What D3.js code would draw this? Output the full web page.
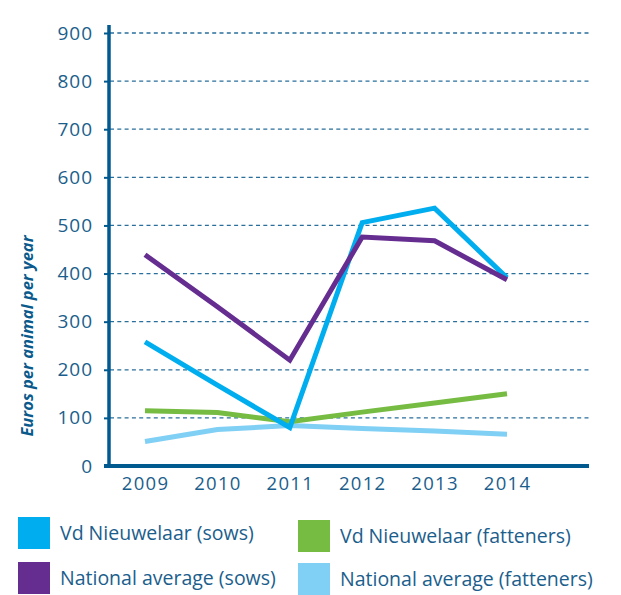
<!DOCTYPE html>
<html>
<head>
<meta charset="utf-8">
<script src="https://cdn.jsdelivr.net/npm/d3@7"></script>
<style>
  body { margin: 0; background: #fff; }
  text { font-family: "Open Sans", "Noto Sans", sans-serif; }
</style>
</head>
<body>
<div id="chart"></div>
<script>
// data
var years = [2009, 2010, 2011, 2012, 2013, 2014];
var yTicks = [0, 100, 200, 300, 400, 500, 600, 700, 800, 900];
var vdSows = [258, 168, 80, 506, 536, 391];
var natSows = [439, 331, 220, 476, 468, 387];
var vdFatteners = [115, 111, 92, 112, 131, 150];
var natFatteners = [51, 76, 84, 78, 73, 66];

var seriesNames = ["Vd Nieuwelaar (sows)", "Vd Nieuwelaar (fatteners)", "National average (sows)", "National average (fatteners)"];
var seriesColors = ["#00aeef", "#76bc43", "#662d91", "#80cff4"];

var textColor = "#1b5e8c",
    axisColor = "#005a8f";

var svg = d3.select("#chart")
    .append("svg")
    .attr("width", 621)
    .attr("height", 595);

var x = d3.scalePoint().domain(years).range([145, 507]);
var y = d3.scaleLinear().domain([0, 900]).range([466, 33]);

// dashed grid lines
svg.append("g")
    .selectAll("line")
    .data(yTicks.filter(function(d) { return d > 0; }))
    .enter()
    .append("line")
    .attr("x1", 110).attr("x2", 589)
    .attr("y1", function(d) { return y(d); })
    .attr("y2", function(d) { return y(d); })
    .attr("stroke", "#2a6f9c")
    .attr("stroke-width", 1.3)
    .attr("stroke-dasharray", "4,3.3");

// y axis
var yAxis = svg.append("g")
    .attr("transform", "translate(109,0)")
    .call(d3.axisLeft(y).tickValues(yTicks).tickSize(5).tickPadding(11));
yAxis.select(".domain").remove();
yAxis.selectAll(".tick line").attr("stroke", axisColor).attr("stroke-width", 2);
yAxis.selectAll(".tick text")
    .attr("fill", textColor)
    .style("font-size", "19px")
    .style("letter-spacing", "1px")
    .attr("font-family", null);
yAxis.append("line")
    .attr("x1", 0).attr("x2", 0)
    .attr("y1", 25).attr("y2", 468)
    .attr("stroke", axisColor)
    .attr("stroke-width", 3.5);

// x axis
svg.append("line")
    .attr("x1", 104).attr("x2", 589)
    .attr("y1", 466).attr("y2", 466)
    .attr("stroke", axisColor)
    .attr("stroke-width", 4);

var xAxis = svg.append("g")
    .attr("transform", "translate(0,466)")
    .call(d3.axisBottom(x).tickSize(0).tickPadding(11));
xAxis.select(".domain").remove();
xAxis.selectAll(".tick text")
    .attr("fill", textColor)
    .style("font-size", "18.5px")
    .style("letter-spacing", "1.3px")
    .attr("font-family", null);

// y axis title
svg.append("text")
    .attr("transform", "translate(33,336) rotate(-90)")
    .attr("text-anchor", "middle")
    .attr("fill", "#0b5a8c")
    .style("font-size", "16.5px")
    .style("font-weight", "bold")
    .style("font-style", "italic")
    .text("Euros per animal per year");

// lines
var line = d3.line()
    .x(function(d, i) { return x(years[i]); })
    .y(function(d) { return y(d); });

var drawOrder = [
    {values: natFatteners, color: seriesColors[3]},
    {values: vdFatteners, color: seriesColors[1]},
    {values: vdSows, color: seriesColors[0]},
    {values: natSows, color: seriesColors[2]}
];

svg.append("g")
    .selectAll("path")
    .data(drawOrder)
    .enter()
    .append("path")
    .attr("d", function(d) { return line(d.values); })
    .attr("fill", "none")
    .attr("stroke", function(d) { return d.color; })
    .attr("stroke-width", 5)
    .attr("stroke-linejoin", "miter");

// legend
var legendPos = [[18, 517], [298, 520], [18, 562], [298, 563]];
var legend = svg.append("g")
    .selectAll("g")
    .data(seriesNames)
    .enter()
    .append("g")
    .attr("transform", function(d, i) { return "translate(" + legendPos[i][0] + "," + legendPos[i][1] + ")"; });

legend.append("rect")
    .attr("width", 32).attr("height", 32)
    .attr("fill", function(d, i) { return seriesColors[i]; });

legend.append("text")
    .attr("x", 42)
    .attr("y", 23)
    .attr("fill", textColor)
    .style("font-size", "19.5px")
    .text(function(d) { return d; });
</script>
</body>
</html>
